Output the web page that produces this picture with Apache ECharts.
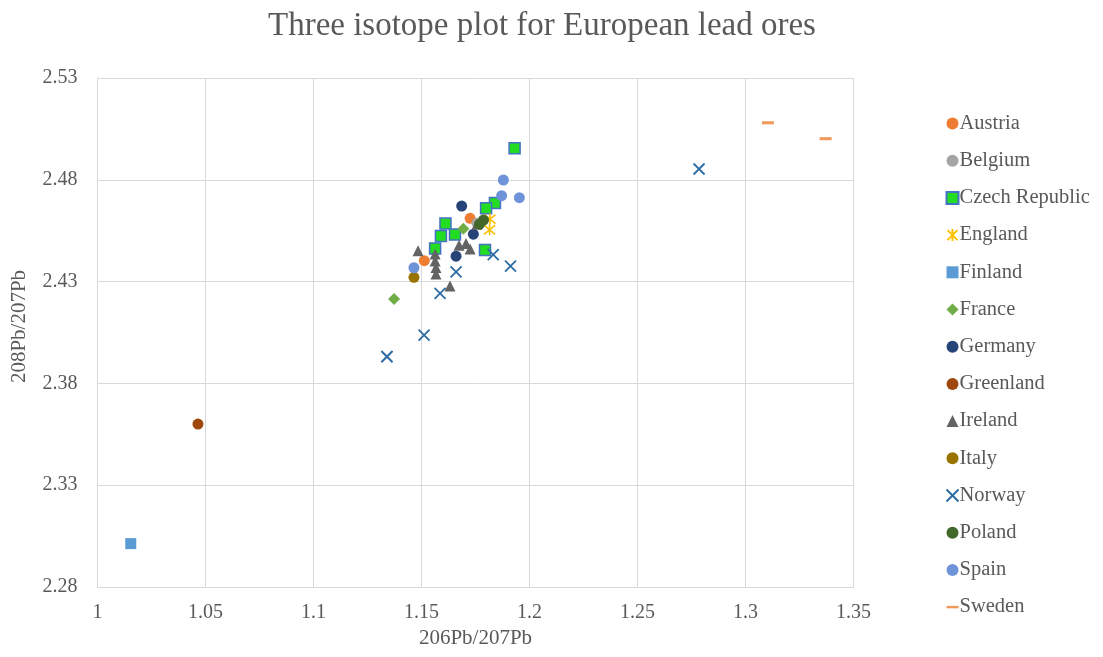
<!DOCTYPE html>
<html><head><meta charset="utf-8">
<script src="https://cdn.jsdelivr.net/npm/echarts@6/dist/echarts.min.js"></script>
<style>html,body{margin:0;padding:0;background:#fff}#c{width:1103px;height:657px}</style>
</head><body><div id="c"></div>
<script>
const xTicks = [1, 1.05, 1.1, 1.15, 1.2, 1.25, 1.3, 1.35];
const yTicks = [2.28, 2.33, 2.38, 2.43, 2.48, 2.53];
const countries = ['Austria','Belgium','Czech Republic','England','Finland','France','Germany','Greenland','Ireland','Italy','Norway','Poland','Spain','Sweden'];
const austria = [[1.1725,2.4611],[1.1513,2.4403]];
const belgium = [[1.1757,2.4587]];
const czech = [[1.1931,2.4955],[1.1840,2.4686],[1.1799,2.4660],[1.1611,2.4585],[1.1590,2.4524],[1.1655,2.4531],[1.1563,2.4463],[1.1794,2.4455]];
const england = [[1.1815,2.4555],[1.1817,2.4607]];
const finland = [[1.0154,2.3013]];
const france = [[1.1373,2.4214],[1.1694,2.4560]];
const germany = [[1.1686,2.4671],[1.1740,2.4533],[1.1660,2.4425]];
const greenland = [[1.0465,2.3600]];
const ireland = [[1.1484,2.4452],[1.1563,2.4435],[1.1563,2.4401],[1.1567,2.4369],[1.1567,2.4337],[1.1674,2.4479],[1.1706,2.4487],[1.1725,2.4460],[1.1632,2.4278],[1.1757,2.4582]];
const italy = [[1.1465,2.4321]];
const norway = [[1.2785,2.4853],[1.1340,2.3931],[1.1340,2.3931],[1.1512,2.4037],[1.1586,2.4242],[1.1660,2.4348],[1.1832,2.4433],[1.1912,2.4376]];
const poland = [[1.1787,2.4602],[1.1769,2.4582]];
const spain = [[1.1879,2.4799],[1.1871,2.4722],[1.1953,2.4712],[1.1465,2.4368]];
const sweden = [[1.3104,2.5080],[1.3371,2.5002]];

const seriesData = [austria, belgium, czech, england, finland, france, germany, greenland, ireland, italy, norway, poland, spain, sweden];

const X_PATH = 'path://M0,0L10,10M10,0L0,10';
const AST_PATH = 'path://M0,0L10,10M10,0L0,10M5,-1L5,11';
const styles = [
  {symbol:'circle', symbolSize:11, itemStyle:{color:'#ED7D31'}},
  {symbol:'circle', symbolSize:11, itemStyle:{color:'#A5A5A5'}},
  {symbol:'rect', symbolSize:11, itemStyle:{color:'#22DD22', borderColor:'#4472C4', borderWidth:1.5}},
  {symbol:AST_PATH, symbolSize:11, itemStyle:{color:'none', borderColor:'#FFC000', borderWidth:1.6}},
  {symbol:'rect', symbolSize:11, itemStyle:{color:'#5B9BD5'}},
  {symbol:'diamond', symbolSize:12, itemStyle:{color:'#70AD47'}},
  {symbol:'circle', symbolSize:11, itemStyle:{color:'#264478'}},
  {symbol:'circle', symbolSize:11, itemStyle:{color:'#9E480E'}},
  {symbol:'triangle', symbolSize:11, itemStyle:{color:'#636363'}},
  {symbol:'circle', symbolSize:11, itemStyle:{color:'#997300'}},
  {symbol:X_PATH, symbolSize:11, itemStyle:{color:'none', borderColor:'#2E6DA4', borderWidth:1.8}},
  {symbol:'circle', symbolSize:11, itemStyle:{color:'#43682B'}},
  {symbol:'circle', symbolSize:11, itemStyle:{color:'#6F93D8'}},
  {symbol:'rect', symbolSize:[12,3], itemStyle:{color:'#F1975A'}}
];
styles.forEach(s => { s.itemStyle.opacity = 1; });

const series = countries.map((name, i) => Object.assign({
  name: name, type: 'scatter', data: seriesData[i], z: 2 + i,
  emphasis: {disabled: true}
}, styles[i]));

const legendIcons = {
  'Sweden': 'path://M0,4.5L10,4.5L10,6.5L0,6.5Z'
};

const font = '"Liberation Serif", "Times New Roman", serif';
const chart = echarts.init(document.getElementById('c'), null, {renderer:'canvas'});
chart.setOption({
  animation: false,
  backgroundColor: '#fff',
  title: {
    text: 'Three isotope plot for European lead ores',
    left: 268, top: 10, itemGap: 0, padding: 0,
    textStyle: {fontFamily: font, fontSize: 33, fontWeight: 'normal', color: '#595959'}
  },
  grid: {left: 97.5, right: 249.5, top: 78, bottom: 70, containLabel: false},
  legend: {
    orient: 'vertical', left: 944, top: 113,
    itemWidth: 12, itemHeight: 12, itemGap: 16.2, padding: 0,
    textStyle: {fontFamily: font, fontSize: 20.5, color: '#595959', lineHeight: 20, padding: [0,0,0,-4]},
    data: countries.map(n => legendIcons[n] ? {name: n, icon: legendIcons[n]} : {name: n})
  },
  xAxis: {
    type: 'value', min: 1, max: 1.35, interval: 0.05,
    name: '206Pb/207Pb', nameLocation: 'middle', nameGap: 40,
    nameTextStyle: {fontFamily: font, fontSize: 21, color: '#595959'},
    axisLine: {show: true, lineStyle: {color: '#D9D9D9', width: 1}},
    axisTick: {show: false},
    splitLine: {show: true, lineStyle: {color: '#D9D9D9', width: 1}},
    axisLabel: {fontFamily: font, fontSize: 20, color: '#595959', margin: 16,
      formatter: v => { const t = xTicks.find(k => Math.abs(k - v) < 1e-6); return t === undefined ? '' : String(t); }}
  },
  yAxis: {
    type: 'value', min: 2.28, max: 2.53, interval: 0.05,
    name: '208Pb/207Pb', nameLocation: 'middle', nameGap: 68,
    nameTextStyle: {fontFamily: font, fontSize: 21, color: '#595959', padding: [0,0,0,12]},
    axisLine: {show: true, lineStyle: {color: '#D9D9D9', width: 1}},
    axisTick: {show: false},
    splitLine: {show: true, lineStyle: {color: '#D9D9D9', width: 1}},
    axisLabel: {fontFamily: font, fontSize: 20, color: '#595959', margin: 20,
      formatter: v => { const t = yTicks.find(k => Math.abs(k - v) < 1e-6); return t === undefined ? '' : String(t); }}
  },
  series: series
});
</script>
</body></html>
